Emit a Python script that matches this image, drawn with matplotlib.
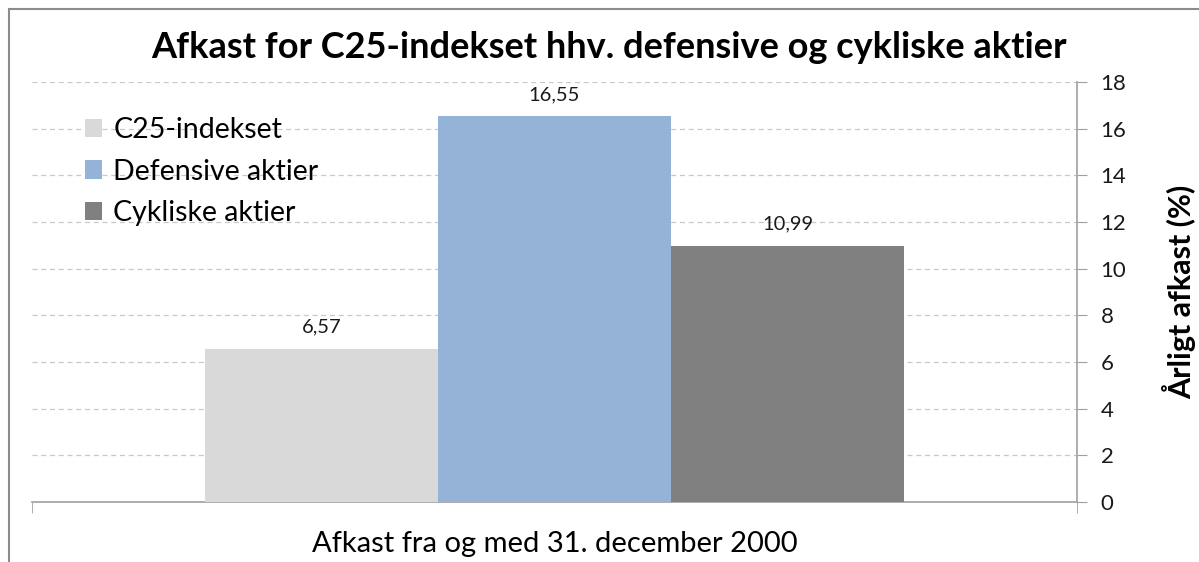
import matplotlib
matplotlib.use('Agg')
import matplotlib.pyplot as plt
from matplotlib.patches import Rectangle

# Data
series = ['C25-indekset', 'Defensive aktier', 'Cykliske aktier']
values = [6.57, 16.55, 10.99]
value_labels = ['6,57', '16,55', '10,99']
colors = ['#D9D9D9', '#95B3D7', '#808080']
category = 'Afkast fra og med 31. december 2000'
yticks = [0, 2, 4, 6, 8, 10, 12, 14, 16, 18]

plt.rcParams['font.family'] = ['Lato', 'DejaVu Sans']

fig = plt.figure(figsize=(11.99, 5.62), dpi=100)
ax = fig.add_axes([32 / 1199, 1 - 502 / 562, (1077 - 32) / 1199, (502 - 82) / 562])

# chart border (top/left visible, cropped at right/bottom)
fig.patches.append(Rectangle((9 / 1199, -0.05), 1.2, 1 - 9 / 562 + 0.05, transform=fig.transFigure,
                             fill=False, edgecolor='#8C8C8C', linewidth=1.5))

width = 233 / 1045
offsets = [-width, 0, width]
for name, val, lab, col, off in zip(series, values, value_labels, colors, offsets):
    ax.bar(off, val, width=width, color=col, label=name, zorder=3)
    ax.text(off, val + 0.55, lab, ha='center', va='bottom', fontsize=14.5, color='#1A1A1A')

ax.set_xlim(-0.5, 0.5)
ax.set_ylim(0, 18)
ax.set_yticks(yticks)
ax.yaxis.tick_right()
ax.yaxis.set_label_position('right')
ax.tick_params(axis='y', direction='out', length=7, color='#A0A0A0', labelsize=16, pad=10, labelcolor='#1A1A1A')
ax.set_ylabel('Årligt afkast (%)', fontsize=22, fontweight='bold', labelpad=26)

ax.set_xticks([0])
ax.set_xticklabels([category], fontsize=21)
ax.tick_params(axis='x', length=0, pad=21)
ax.set_xticks([-0.5, 0.5], minor=True)
ax.tick_params(axis='x', which='minor', length=8, color='#A0A0A0', direction='out')

for s in ['left', 'top']:
    ax.spines[s].set_visible(False)
for s in ['right', 'bottom']:
    ax.spines[s].set_color('#A0A0A0')
    ax.spines[s].set_linewidth(1.2)

ax.yaxis.grid(True, linestyle=(0, (4, 3)), color='#C8C8C8', linewidth=0.9, zorder=0)
ax.set_axisbelow(True)

fig.text(609 / 1199, 1 - 48 / 562, 'Afkast for C25-indekset hhv. defensive og cykliske aktier',
         ha='center', va='center', fontsize=26, fontweight='bold')

ax.legend(loc='upper left', bbox_to_anchor=(0.026, 0.978), frameon=False, fontsize=20.5,
          handlelength=0.6, handleheight=0.6, handletextpad=0.4, labelspacing=0.55)

fig.savefig('out.png', dpi=100)
